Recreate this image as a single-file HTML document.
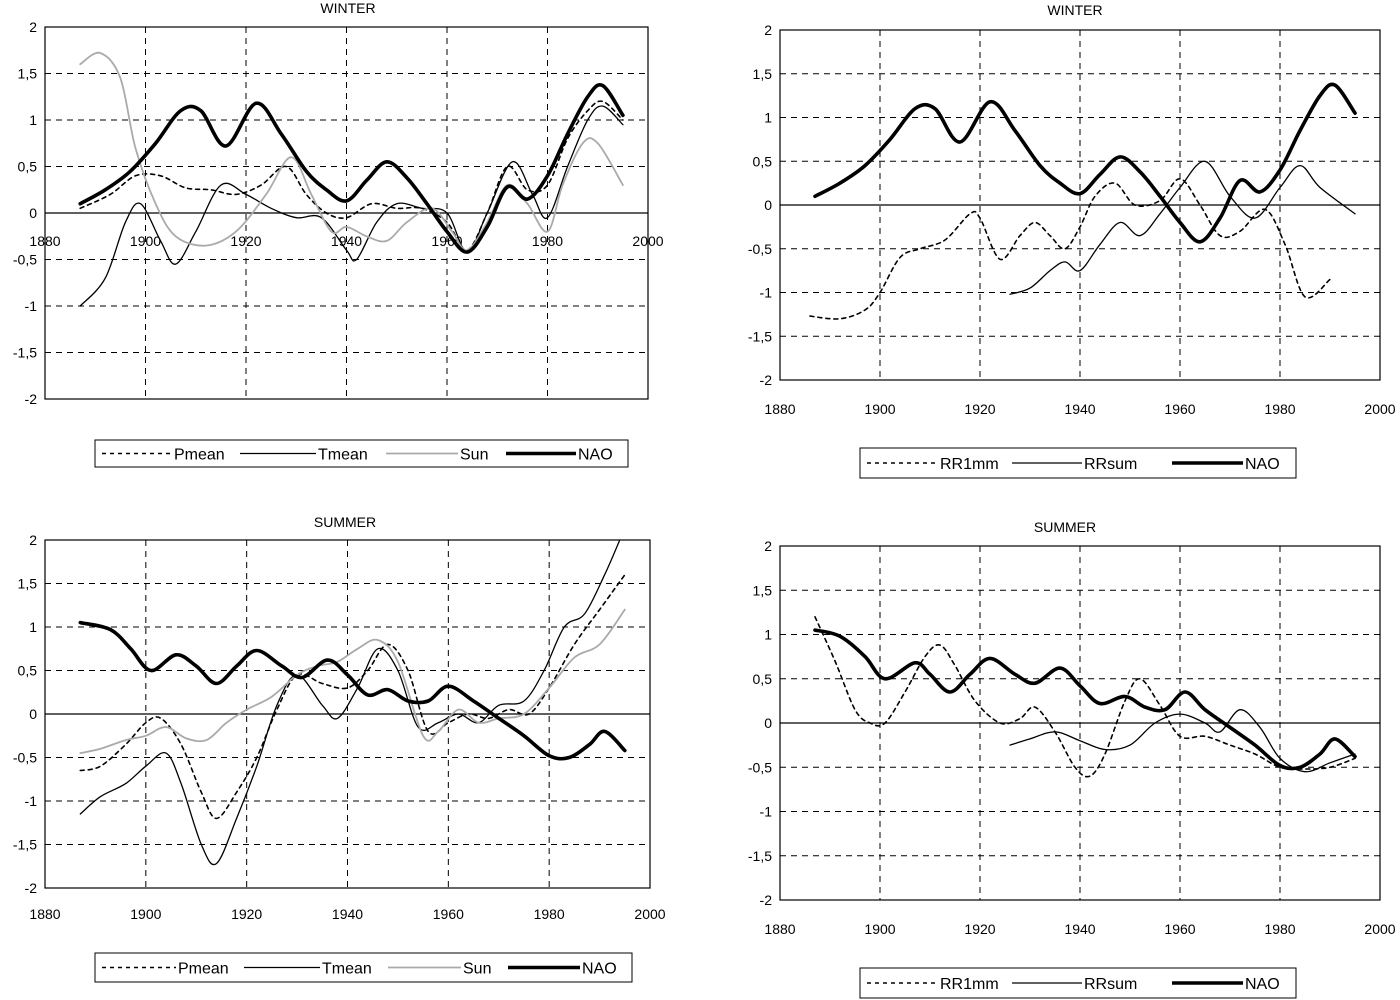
<!DOCTYPE html>
<html><head><meta charset="utf-8">
<style>
html,body{margin:0;padding:0;background:#fff;}
svg{display:block;font-family:"Liberation Sans",Arial,sans-serif;}
</style></head>
<body>
<svg id="chart" width="1400" height="1000" viewBox="0 0 1400 1000" xmlns="http://www.w3.org/2000/svg"></svg>
<script>
// ---- Data (years / values) ----
const yTickValues = [2,1.5,1,0.5,0,-0.5,-1,-1.5,-2];
const yTickLabels = ["2","1,5","1","0,5","0","-0,5","-1","-1,5","-2"];
const xTickYears = [1880,1900,1920,1940,1960,1980,2000];

// Panel 1: winter
const w1NaoYears = [1887,1892,1897,1902,1907,1911,1916,1922,1927,1932,1936,1940,1944,1948,1952,1956,1960,1964,1968,1972,1976,1980,1984,1988,1991,1995];
const w1NaoValues = [0.1,0.25,0.45,0.75,1.1,1.1,0.72,1.18,0.85,0.45,0.25,0.13,0.35,0.55,0.38,0.1,-0.2,-0.42,-0.15,0.28,0.15,0.4,0.85,1.25,1.37,1.05];
const w1PmeanYears = [1887,1893,1898,1903,1908,1913,1918,1923,1928,1932,1936,1940,1945,1950,1955,1960,1964,1968,1972,1976,1980,1984,1988,1991,1995];
const w1PmeanValues = [0.05,0.2,0.4,0.4,0.27,0.25,0.2,0.3,0.5,0.2,0.0,-0.05,0.1,0.05,0.05,-0.1,-0.4,0.0,0.5,0.25,0.3,0.8,1.1,1.2,1.0];
const w1TmeanYears = [1887,1892,1896,1899,1903,1906,1910,1915,1920,1925,1930,1935,1940,1942,1946,1950,1955,1960,1964,1968,1973,1977,1980,1984,1988,1991,1995];
const w1TmeanValues = [-1.0,-0.7,-0.1,0.1,-0.3,-0.55,-0.2,0.3,0.2,0.05,-0.05,-0.05,-0.4,-0.5,-0.1,0.1,0.05,0.0,-0.42,0.0,0.55,0.2,-0.05,0.5,1.0,1.15,0.95];
const w1SunYears = [1887,1891,1895,1898,1902,1906,1912,1918,1924,1929,1933,1937,1940,1944,1948,1952,1957,1961,1964,1968,1972,1976,1980,1983,1987,1990,1995];
const w1SunValues = [1.6,1.72,1.45,0.7,0.1,-0.25,-0.35,-0.2,0.2,0.6,0.2,-0.2,-0.15,-0.25,-0.3,-0.1,0.05,-0.2,-0.4,-0.1,0.3,0.1,-0.2,0.3,0.75,0.75,0.3];

// Panel 2: winter precipitation
const w2Rr1Years = [1886,1892,1897,1900,1904,1908,1913,1918,1920,1924,1928,1931,1934,1937,1940,1943,1947,1951,1956,1960,1964,1968,1972,1977,1981,1985,1990];
const w2Rr1Values = [-1.27,-1.3,-1.2,-1.0,-0.6,-0.5,-0.4,-0.1,-0.15,-0.62,-0.35,-0.2,-0.35,-0.5,-0.25,0.1,0.25,0.0,0.05,0.3,0.0,-0.35,-0.3,-0.05,-0.45,-1.05,-0.85];
const w2RrsumYears = [1926,1930,1934,1937,1940,1944,1948,1952,1956,1960,1965,1970,1975,1980,1984,1988,1995];
const w2RrsumValues = [-1.02,-0.95,-0.75,-0.65,-0.75,-0.45,-0.2,-0.35,-0.1,0.2,0.5,0.1,-0.15,0.2,0.45,0.2,-0.1];

// Panel 3: summer
const s1NaoYears = [1887,1893,1897,1901,1906,1910,1914,1918,1922,1927,1931,1936,1940,1944,1948,1952,1956,1960,1965,1970,1975,1980,1984,1988,1991,1995];
const s1NaoValues = [1.05,0.97,0.75,0.5,0.68,0.55,0.35,0.55,0.73,0.55,0.42,0.62,0.45,0.22,0.28,0.15,0.15,0.32,0.15,-0.05,-0.25,-0.48,-0.5,-0.35,-0.2,-0.42];
const s1PmeanYears = [1887,1891,1896,1900,1903,1907,1911,1914,1918,1922,1926,1930,1935,1940,1944,1948,1952,1956,1960,1964,1968,1972,1976,1980,1985,1990,1995];
const s1PmeanValues = [-0.65,-0.6,-0.35,-0.1,-0.05,-0.35,-0.9,-1.2,-0.9,-0.5,0.05,0.45,0.35,0.3,0.5,0.8,0.5,-0.2,-0.1,0.0,-0.05,0.05,0.0,0.3,0.8,1.2,1.6];
const s1TmeanYears = [1887,1891,1896,1900,1904,1907,1911,1914,1918,1922,1926,1930,1935,1938,1942,1946,1950,1954,1958,1962,1966,1970,1975,1979,1983,1987,1991,1994];
const s1TmeanValues = [-1.15,-0.95,-0.8,-0.6,-0.45,-0.8,-1.5,-1.72,-1.2,-0.6,0.1,0.45,0.1,-0.05,0.3,0.75,0.5,-0.15,-0.1,0.0,-0.1,0.1,0.15,0.5,1.0,1.15,1.6,2.0];
const s1SunYears = [1887,1891,1896,1900,1904,1908,1912,1916,1920,1925,1930,1934,1938,1942,1946,1950,1955,1958,1962,1966,1970,1975,1980,1985,1990,1995];
const s1SunValues = [-0.45,-0.4,-0.3,-0.25,-0.15,-0.28,-0.3,-0.1,0.05,0.2,0.45,0.55,0.6,0.75,0.85,0.6,-0.25,-0.2,0.05,-0.1,-0.05,0.0,0.3,0.65,0.8,1.2];

// Panel 4: summer precipitation
const s2NaoYears = [1887,1892,1897,1901,1907,1910,1914,1918,1922,1927,1931,1936,1940,1944,1949,1953,1957,1961,1965,1970,1975,1980,1984,1988,1991,1995];
const s2NaoValues = [1.05,0.98,0.75,0.5,0.68,0.55,0.35,0.55,0.73,0.55,0.45,0.62,0.42,0.22,0.3,0.18,0.15,0.35,0.15,-0.05,-0.25,-0.48,-0.5,-0.35,-0.18,-0.38];
const s2Rr1Years = [1887,1891,1895,1898,1901,1905,1909,1912,1915,1919,1924,1928,1931,1935,1939,1942,1945,1949,1952,1956,1960,1965,1970,1975,1980,1985,1990,1995];
const s2Rr1Values = [1.2,0.7,0.15,0.0,0.0,0.35,0.75,0.88,0.65,0.25,0.0,0.05,0.18,-0.1,-0.5,-0.6,-0.35,0.25,0.5,0.2,-0.15,-0.15,-0.25,-0.35,-0.5,-0.52,-0.5,-0.4];
const s2RrsumYears = [1926,1930,1935,1940,1945,1950,1955,1960,1965,1968,1972,1976,1980,1985,1990,1995];
const s2RrsumValues = [-0.25,-0.18,-0.1,-0.2,-0.3,-0.25,0.0,0.1,0.0,-0.1,0.15,-0.05,-0.4,-0.55,-0.45,-0.35];

const NS = "http://www.w3.org/2000/svg";
const svg = document.getElementById("chart");
function mk(tag, attrs, parent){
  const e = document.createElementNS(NS, tag);
  for (const k in attrs) e.setAttribute(k, attrs[k]);
  (parent||svg).appendChild(e);
  return e;
}
const styles = {
  dashed:{stroke:"#000","stroke-width":1.6,"stroke-dasharray":"4,4"},
  thin:{stroke:"#000","stroke-width":1.3},
  gray:{stroke:"#aaa","stroke-width":1.8},
  thick:{stroke:"#000","stroke-width":3.6}
};
function smoothPath(pts){
  let d = "M"+pts[0][0].toFixed(1)+","+pts[0][1].toFixed(1);
  for (let i=0;i<pts.length-1;i++){
    const p0=pts[i-1]||pts[i], p1=pts[i], p2=pts[i+1], p3=pts[i+2]||p2;
    const c1=[p1[0]+(p2[0]-p0[0])/6, p1[1]+(p2[1]-p0[1])/6];
    const c2=[p2[0]-(p3[0]-p1[0])/6, p2[1]-(p3[1]-p1[1])/6];
    d += " C"+c1[0].toFixed(1)+","+c1[1].toFixed(1)+" "+c2[0].toFixed(1)+","+c2[1].toFixed(1)+" "+p2[0].toFixed(1)+","+p2[1].toFixed(1);
  }
  return d;
}
function panel(cfg){
  const g = mk("g",{});
  
  
  const xs = yr => cfg.x0 + (yr-1880)/120*(cfg.x1-cfg.x0);
  const ys = v => cfg.yZero - v*(cfg.yZero-cfg.yTop)/2;
  const yBot = ys(-2);
  for (const v of yTickValues){
    if (v===2||v===-2||v===0) continue;
    const l = mk("line",{x1:cfg.x0,x2:cfg.x1,y1:ys(v),y2:ys(v),stroke:"#000","stroke-width":1,"stroke-dasharray":"6,5"},g);
    
    
  }
  for (const yr of xTickYears){
    if (yr===1880||yr===2000) continue;
    const l = mk("line",{x1:xs(yr),x2:xs(yr),y1:cfg.yTop,y2:yBot,stroke:"#000","stroke-width":1,"stroke-dasharray":"6,5"},g);
    
    
  }
  const frame = mk("rect",{x:cfg.x0,y:cfg.yTop,width:cfg.x1-cfg.x0,height:yBot-cfg.yTop,fill:"none",stroke:"#000","stroke-width":1.2},g);
  
  
  const z = mk("line",{x1:cfg.x0,x2:cfg.x1,y1:ys(0),y2:ys(0),stroke:"#000","stroke-width":1.2},g);
  
  
  yTickValues.forEach((v,i)=>{
    const t = mk("text",{x:cfg.x0-8,y:ys(v)+5,"text-anchor":"end","font-size":14},g);
    t.textContent = yTickLabels[i];
    
    
  });
  xTickYears.forEach(yr=>{
    const t = mk("text",{x:xs(yr),y:cfg.xLabelY,"text-anchor":"middle","font-size":14},g);
    t.textContent = yr;
    
    
  });
  const title = mk("text",{x:cfg.titleX,y:cfg.titleY,"text-anchor":"middle","font-size":14},g);
  title.textContent = cfg.title;
  
  
  for (const s of cfg.series){
    const pts = s.years.map((yr,i)=>[xs(yr), ys(s.values[i])]);
    const p = mk("path",Object.assign({d:smoothPath(pts),fill:"none","stroke-linejoin":"round","stroke-linecap":"round"},styles[s.style]),g);
    
    
  }
  const L = cfg.legend;
  const lg = mk("g",{},g);
  
  
  const box = mk("rect",{x:L.x,y:L.y,width:L.w,height:L.h,fill:"#fff",stroke:"#000","stroke-width":1},lg);
  
  
  const cy = L.y+L.h/2;
  cfg.series.forEach((s,i)=>{
    const pos = L.pos[i];
    const ln = mk("line",Object.assign({x1:pos[0],x2:pos[1],y1:cy,y2:cy},styles[s.style]),lg);
    
    
    const t = mk("text",{x:pos[1]+2,y:cy+6,"font-size":16},lg);
    t.textContent = s.label;
    
    
  });
}

panel({name:"winter-temperature-panel",title:"WINTER",titleX:348,titleY:13,x0:45,x1:648,yTop:27,yZero:213,xLabelY:246,
  legend:{x:95,y:440,w:533,h:27,pos:[[102,172],[240,316],[386,458],[506,576]]},
  series:[
    {name:"pmean-line",label:"Pmean",style:"dashed",years:w1PmeanYears,values:w1PmeanValues},
    {name:"tmean-line",label:"Tmean",style:"thin",years:w1TmeanYears,values:w1TmeanValues},
    {name:"sun-line",label:"Sun",style:"gray",years:w1SunYears,values:w1SunValues},
    {name:"nao-line",label:"NAO",style:"thick",years:w1NaoYears,values:w1NaoValues}]});
panel({name:"winter-precip-panel",title:"WINTER",titleX:1075,titleY:15,x0:780,x1:1380,yTop:30,yZero:205,xLabelY:414,
  legend:{x:860,y:448,w:436,h:30,pos:[[867,938],[1012,1082],[1172,1243]]},
  series:[
    {name:"rr1mm-line",label:"RR1mm",style:"dashed",years:w2Rr1Years,values:w2Rr1Values},
    {name:"rrsum-line",label:"RRsum",style:"thin",years:w2RrsumYears,values:w2RrsumValues},
    {name:"nao-line",label:"NAO",style:"thick",years:w1NaoYears,values:w1NaoValues}]});
panel({name:"summer-temperature-panel",title:"SUMMER",titleX:345,titleY:527,x0:45,x1:650,yTop:540,yZero:714,xLabelY:919,
  legend:{x:95,y:953,w:537,h:29,pos:[[102,176],[244,320],[388,461],[508,580]]},
  series:[
    {name:"pmean-line",label:"Pmean",style:"dashed",years:s1PmeanYears,values:s1PmeanValues},
    {name:"tmean-line",label:"Tmean",style:"thin",years:s1TmeanYears,values:s1TmeanValues},
    {name:"sun-line",label:"Sun",style:"gray",years:s1SunYears,values:s1SunValues},
    {name:"nao-line",label:"NAO",style:"thick",years:s1NaoYears,values:s1NaoValues}]});
panel({name:"summer-precip-panel",title:"SUMMER",titleX:1065,titleY:532,x0:780,x1:1380,yTop:546,yZero:723,xLabelY:934,
  legend:{x:860,y:968,w:436,h:30,pos:[[867,938],[1012,1082],[1172,1243]]},
  series:[
    {name:"rr1mm-line",label:"RR1mm",style:"dashed",years:s2Rr1Years,values:s2Rr1Values},
    {name:"rrsum-line",label:"RRsum",style:"thin",years:s2RrsumYears,values:s2RrsumValues},
    {name:"nao-line",label:"NAO",style:"thick",years:s2NaoYears,values:s2NaoValues}]});
</script>
</body></html>
